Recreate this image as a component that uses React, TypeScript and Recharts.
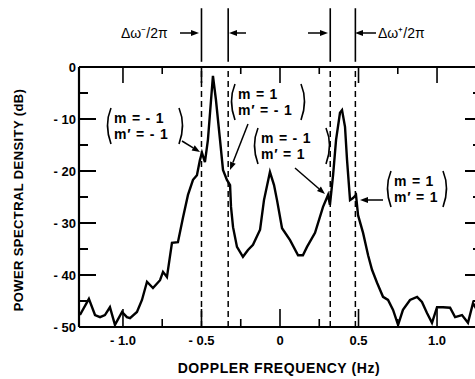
import { LineChart, Line, XAxis, YAxis, ReferenceLine } from "recharts";

// Doppler spectrum (Hz, dB)
const freqHz = [
  -1.274, -1.217, -1.178, -1.146, -1.115, -1.083, -1.051, -1.006, -0.975, -0.955,
  -0.911, -0.879, -0.847, -0.809, -0.764, -0.745, -0.72, -0.688, -0.65, -0.618,
  -0.586, -0.554, -0.529, -0.51, -0.497, -0.478, -0.459, -0.439, -0.427, -0.408,
  -0.382, -0.363, -0.338, -0.318, -0.312, -0.299, -0.274, -0.236, -0.204, -0.172,
  -0.127, -0.102, -0.064, -0.038, -0.019, 0.013, 0.064, 0.115, 0.146, 0.172,
  0.223, 0.274, 0.306, 0.318, 0.338, 0.357, 0.382, 0.395, 0.414, 0.427,
  0.446, 0.465, 0.484, 0.497, 0.529, 0.561, 0.586, 0.618, 0.656, 0.688,
  0.72, 0.752, 0.783, 0.828, 0.873, 0.904, 0.936, 0.968, 1.0, 1.038,
  1.083, 1.115, 1.159, 1.197, 1.229, 1.26,
];
const psdDb = [
  -47.7, -44.6, -47.7, -48.1, -47.7, -46.2, -49.6, -47.1, -48.1, -48.3,
  -47.1, -44.8, -41.3, -42.5, -41.0, -39.4, -40.4, -33.8, -33.7, -29.0,
  -24.6, -21.7, -20.8, -17.9, -16.5, -18.3, -14.0, -6.3, -1.7, -6.3,
  -14.0, -19.8, -21.7, -22.7, -26.9, -30.8, -34.6, -36.5, -35.2, -34.2,
  -31.3, -25.6, -20.2, -22.7, -25.6, -31.0, -33.3, -36.2, -36.2, -34.6,
  -31.9, -26.9, -24.6, -26.5, -20.8, -14.0, -8.8, -8.3, -11.5, -17.9,
  -25.6, -25.2, -24.6, -28.5, -31.9, -36.2, -39.0, -41.5, -44.2, -44.8,
  -46.7, -49.6, -46.7, -44.8, -44.2, -45.2, -47.3, -49.2, -46.2, -46.2,
  -46.3, -48.1, -47.7, -49.2, -45.4, -47.0,
];

const xTicks = [-1, -0.75, -0.5, -0.25, 0, 0.25, 0.5, 0.75, 1];
const xMajor = [-1, -0.5, 0, 0.5, 1];
const yTicks = [0, -5, -10, -15, -20, -25, -30, -35, -40, -45, -50];
const sidebandHz = [-0.5, -0.33, 0.32, 0.48];

const data = freqHz.map((f, i) => ({ f, db: psdDb[i] }));

const FONT = "'Liberation Sans', Arial, sans-serif";

const fmtX = (v: number) => (v === 0 ? "0" : (v < 0 ? "- " : "") + Math.abs(v).toFixed(1));
const fmtY = (v: number) => (v === 0 ? "0" : "- " + Math.abs(v));

const LeftTick = (props: any) => {
  const { x, y, payload } = props;
  const major = payload.value % 10 === 0;
  return (
    <g>
      <line x1={x} x2={x + (major ? 17 : 9)} y1={y} y2={y} stroke="#000" strokeWidth={2} />
      {major && (
        <text x={x - 3} y={y + 4.5} textAnchor="end" fontSize={13} fontWeight="bold" fontFamily={FONT} fill="#000">
          {fmtY(payload.value)}
        </text>
      )}
    </g>
  );
};

const RightTick = (props: any) => {
  const { x, y, payload } = props;
  const major = payload.value % 10 === 0;
  return <line x1={x} x2={x - (major ? 16 : 8)} y1={y} y2={y} stroke="#000" strokeWidth={2} />;
};

const BottomTick = (props: any) => {
  const { x, y, payload } = props;
  const major = xMajor.includes(payload.value);
  return (
    <g>
      <line x1={x} x2={x} y1={y} y2={y - (major ? 18 : 8)} stroke="#000" strokeWidth={1.6} />
      {major && (
        <text x={x} y={y + 18} textAnchor="middle" fontSize={13} fontWeight="bold" fontFamily={FONT} fill="#000">
          {fmtX(payload.value)}
        </text>
      )}
    </g>
  );
};

const TopTick = (props: any) => {
  const { x, y, payload } = props;
  const major = xMajor.includes(payload.value);
  return <line x1={x} x2={x} y1={y} y2={y + (major ? 16 : 7)} stroke="#000" strokeWidth={1.6} />;
};

const Arrow = ({ x1, y1, x2, y2 }: { x1: number; y1: number; x2: number; y2: number }) => {
  const a = Math.atan2(y2 - y1, x2 - x1);
  const L = 8;
  const W = 3;
  const bx = x2 - L * Math.cos(a);
  const by = y2 - L * Math.sin(a);
  const px = -Math.sin(a) * W;
  const py = Math.cos(a) * W;
  return (
    <g>
      <line x1={x1} y1={y1} x2={bx} y2={by} stroke="#000" strokeWidth={1.5} />
      <polygon points={`${x2},${y2} ${bx + px},${by + py} ${bx - px},${by - py}`} fill="#000" />
    </g>
  );
};

const ModeLabel = ({ x, y, w, m, mp }: { x: number; y: number; w: number; m: string; mp: string }) => (
  <g>
    <path d={`M ${x + 5} ${y - 13} Q ${x - 2} ${y + 4} ${x + 5} ${y + 23}`} fill="none" stroke="#000" strokeWidth={1.6} />
    <path d={`M ${x + w - 5} ${y - 13} Q ${x + w + 2} ${y + 4} ${x + w - 5} ${y + 23}`} fill="none" stroke="#000" strokeWidth={1.6} />
    <text x={x + 8} y={y + 2} fontSize={14} fontWeight="bold" fontFamily={FONT} letterSpacing={0.8} fill="#000" xmlSpace="preserve">
      {m}
    </text>
    <text x={x + 8} y={y + 18} fontSize={14} fontWeight="bold" fontFamily={FONT} letterSpacing={0.8} fill="#000" xmlSpace="preserve">
      {mp}
    </text>
  </g>
);

const axisLine = { stroke: "#000", strokeWidth: 2.2 };

const App = () => {
  return (
    <div style={{ position: "absolute", left: 0, top: 0, width: 475, height: 379, overflow: "hidden", background: "#fff" }}>
      <LineChart width={500} height={379} data={data} margin={{ top: 66, right: 18, bottom: 51, left: 78 }}>
        <XAxis
          dataKey="f"
          type="number"
          domain={[-1.28, 1.28]}
          allowDataOverflow
          ticks={xTicks}
          interval={0}
          height={1}
          tickSize={0}
          tickMargin={0}
          tickLine={false}
          axisLine={axisLine}
          tick={<BottomTick />}
        />
        <XAxis
          xAxisId="top"
          orientation="top"
          dataKey="f"
          type="number"
          domain={[-1.28, 1.28]}
          allowDataOverflow
          ticks={xTicks}
          interval={0}
          height={1}
          tickSize={0}
          tickMargin={0}
          tickLine={false}
          axisLine={axisLine}
          tick={<TopTick />}
        />
        <YAxis
          type="number"
          domain={[-50, 0]}
          allowDataOverflow
          ticks={yTicks}
          interval={0}
          width={1}
          tickSize={0}
          tickMargin={0}
          tickLine={false}
          axisLine={axisLine}
          tick={<LeftTick />}
        />
        <YAxis
          yAxisId="right"
          orientation="right"
          type="number"
          domain={[-50, 0]}
          allowDataOverflow
          ticks={yTicks}
          interval={0}
          width={1}
          tickSize={0}
          tickMargin={0}
          tickLine={false}
          axisLine={axisLine}
          tick={<RightTick />}
        />
        {sidebandHz.map((s) => (
          <ReferenceLine key={"d" + s} x={s} stroke="#000" strokeWidth={1.5} strokeDasharray="6 4" />
        ))}
        {sidebandHz.map((s) => (
          <ReferenceLine
            key={"t" + s}
            segment={[
              { x: s, y: 1 },
              { x: s, y: 11.3 },
            ]}
            ifOverflow="visible"
            stroke="#000"
            strokeWidth={1.6}
          />
        ))}
        <Line
          type="linear"
          dataKey="db"
          stroke="#000"
          strokeWidth={2.4}
          dot={false}
          isAnimationActive={false}
        />
      </LineChart>
      <svg width={475} height={379} style={{ position: "absolute", left: 0, top: 0, pointerEvents: "none" }}>
        <text x={121} y={38} fontSize={14} fontFamily={FONT} fill="#000">
          Δω⁻/2π
        </text>
        <Arrow x1={180} y1={33} x2={199} y2={33} />
        <Arrow x1={246} y1={33} x2={229} y2={33} />
        <Arrow x1={308} y1={33} x2={328} y2={33} />
        <Arrow x1={376} y1={33} x2={355} y2={33} />
        <text x={378} y={38} fontSize={14} fontFamily={FONT} fill="#000">
          Δω⁺/2π
        </text>

        <ModeLabel x={106} y={121} w={78} m="m = - 1" mp="m′ = - 1" />
        <Arrow x1={182} y1={141} x2={200} y2={152} />
        <ModeLabel x={230} y={97} w={76} m="m = 1" mp="m′ = - 1" />
        <Arrow x1={248} y1={124} x2={230} y2={170} />
        <ModeLabel x={253} y={141} w={78} m="m = - 1" mp="m′ = 1" />
        <Arrow x1={295} y1={168} x2={325} y2={194} />
        <ModeLabel x={386} y={184} w={62} m="m = 1" mp="m′ = 1" />
        <Arrow x1={383} y1={200} x2={360} y2={200} />

        <text x={279} y={373} textAnchor="middle" fontSize={14} letterSpacing={0.6} fontWeight="bold" fontFamily={FONT} fill="#000">
          DOPPLER FREQUENCY (Hz)
        </text>
        <text
          x={18}
          y={200}
          transform="rotate(-90 18 200)"
          textAnchor="middle"
          dominantBaseline="central"
          fontSize={13}
          letterSpacing={0.4}
          fontWeight="bold"
          fontFamily={FONT}
          fill="#000"
        >
          POWER SPECTRAL DENSITY (dB)
        </text>
      </svg>
    </div>
  );
};

export default App;
